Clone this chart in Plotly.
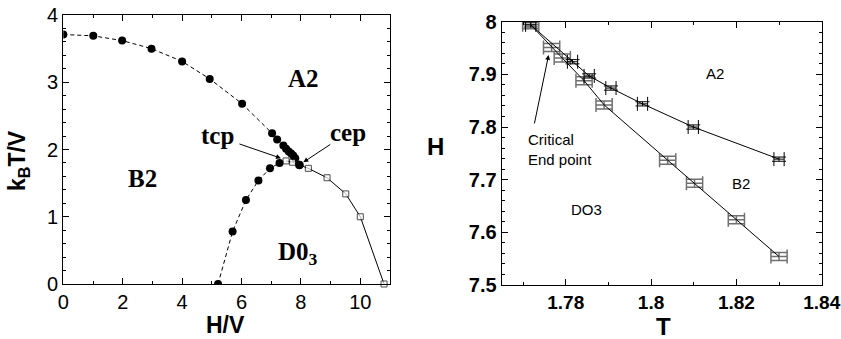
import plotly.graph_objects as go

# ---------------- Left panel data (H/V vs kB T/V) ----------------
upper_H = [0, 1.01, 1.98, 2.97, 4.0, 4.93, 6.02, 7.03, 7.2, 7.41, 7.5, 7.59, 7.67, 7.74, 7.81, 7.95]
upper_T = [3.71, 3.69, 3.62, 3.50, 3.31, 3.05, 2.68, 2.24, 2.15, 2.06, 2.01, 1.97, 1.94, 1.91, 1.87, 1.77]

lower_H = [5.21, 5.70, 6.15, 6.57, 6.96, 7.28, 7.5]
lower_T = [0.0, 0.78, 1.25, 1.54, 1.72, 1.80, 1.83]

solid_H = [7.5, 7.72, 7.95, 8.25, 8.88, 9.51, 10.0, 10.8]
solid_T = [1.83, 1.81, 1.77, 1.72, 1.58, 1.34, 1.0, 0.0]
solid_sym = ["square", "square", "circle", "square", "square", "square", "square", "square"]
solid_fill = ["white", "white", "black", "white", "white", "white", "white", "white"]

# ---------------- Right panel data (T vs H) ----------------
low_T = [1.7718, 1.7767, 1.7792, 1.7843, 1.7890, 1.8039, 1.8102, 1.8200, 1.8300]
low_H = [7.994, 7.951, 7.931, 7.888, 7.842, 7.737, 7.693, 7.624, 7.554]

up_T = [1.7718, 1.7816, 1.7855, 1.7906, 1.7980, 1.8099, 1.8300]
up_H = [7.994, 7.924, 7.897, 7.874, 7.844, 7.800, 7.739]

low_errT = 0.0019
low_errH = 0.0076
up_errT = 0.0012
up_errH = 0.004

left_xticks = [0, 2, 4, 6, 8, 10]
left_yticks = [0, 1, 2, 3, 4]
right_xticks = [1.78, 1.80, 1.82, 1.84]
right_xlabels = ["1.78", "1.8", "1.82", "1.84"]
right_yticks = [7.5, 7.6, 7.7, 7.8, 7.9, 8.0]
right_ylabels = ["7.5", "7.6", "7.7", "7.8", "7.9", "8"]

fig = go.Figure()

# left panel
fig.add_trace(go.Scatter(x=upper_H, y=upper_T, mode="lines+markers",
                         line=dict(color="black", width=1, dash="4px,3px"),
                         marker=dict(symbol="circle", size=8, color="black"),
                         xaxis="x", yaxis="y", showlegend=False))
fig.add_trace(go.Scatter(x=lower_H, y=lower_T, mode="lines",
                         line=dict(color="black", width=1, dash="4px,3px"),
                         xaxis="x", yaxis="y", showlegend=False))
fig.add_trace(go.Scatter(x=lower_H[:-1], y=lower_T[:-1], mode="markers",
                         marker=dict(symbol="circle", size=8, color="black"),
                         xaxis="x", yaxis="y", showlegend=False))
fig.add_trace(go.Scatter(x=solid_H, y=solid_T, mode="lines+markers",
                         line=dict(color="black", width=1),
                         marker=dict(symbol=solid_sym, size=[6, 6, 8, 6, 6, 6, 6, 6],
                                     color=solid_fill, line=dict(color="black", width=1)),
                         xaxis="x", yaxis="y", showlegend=False, cliponaxis=False))

# right panel
fig.add_trace(go.Scatter(x=low_T, y=low_H, mode="lines",
                         line=dict(color="black", width=1),
                         error_x=dict(type="constant", value=low_errT, color="#707070", thickness=1.5, width=7),
                         error_y=dict(type="constant", value=low_errH, color="#707070", thickness=1.5, width=8),
                         xaxis="x2", yaxis="y2", showlegend=False))
fig.add_trace(go.Scatter(x=up_T, y=up_H, mode="lines",
                         line=dict(color="black", width=1),
                         error_x=dict(type="constant", value=up_errT, color="black", thickness=1, width=7),
                         error_y=dict(type="constant", value=up_errH, color="black", thickness=1, width=7),
                         xaxis="x2", yaxis="y2", showlegend=False))

axis_common = dict(showline=True, linecolor="black", linewidth=1.2, mirror="allticks",
                   ticks="inside", ticklen=6, tickcolor="black", showgrid=False, zeroline=False,
                   automargin=False, ticklabeloverflow="allow")

fig.update_layout(
    template="none",
    width=841, height=339,
    margin=dict(l=0, r=0, t=0, b=0, autoexpand=False),
    paper_bgcolor="white", plot_bgcolor="white",
    xaxis=dict(domain=[63.3/841, 390/841], range=[0, 11], tickvals=left_xticks,
               minor=dict(dtick=1, tick0=0, ticks="inside", ticklen=3, tickcolor="black"),
               tickfont=dict(family="Liberation Sans", size=20, color="black"),
               anchor="y", **axis_common),
    yaxis=dict(domain=[(339-284)/339, (339-15)/339], range=[0, 4], tickvals=left_yticks,
               minor=dict(dtick=0.2, tick0=0, ticks="inside", ticklen=3, tickcolor="black"),
               tickfont=dict(family="Liberation Sans", size=20, color="black"),
               anchor="x", **axis_common),
    xaxis2=dict(domain=[501.7/841, 821.7/841], range=[1.765, 1.84],
                tickvals=right_xticks, ticktext=right_xlabels,
                minor=dict(dtick=0.01, tick0=1.77, ticks="inside", ticklen=3, tickcolor="black"),
                tickfont=dict(family="Liberation Sans", size=19, color="black", weight="bold"),
                anchor="y2", **axis_common),
    yaxis2=dict(domain=[(339-285)/339, (339-21.7)/339], range=[7.5, 8.0],
                tickvals=right_yticks, ticktext=right_ylabels,
                minor=dict(dtick=0.02, tick0=7.5, ticks="inside", ticklen=3, tickcolor="black"),
                tickfont=dict(family="Liberation Sans", size=20, color="black", weight="bold"),
                anchor="x2", **axis_common),
)

serif = dict(family="Liberation Serif", size=25, color="black", weight="bold")
sans = dict(family="Liberation Sans", size=15, color="black")
ann = []
# left panel labels
ann.append(dict(x=8.1, y=3.05, xref="x", yref="y", text="A2", showarrow=False, font=serif))
ann.append(dict(x=2.65, y=1.57, xref="x", yref="y", text="B2", showarrow=False, font=serif))
ann.append(dict(x=7.9, y=0.45, xref="x", yref="y", text="D0<sub>3</sub>", showarrow=False, font=serif))
ann.append(dict(x=5.2, y=2.21, xref="x", yref="y", text="tcp", showarrow=False, font=serif))
ann.append(dict(x=9.6, y=2.25, xref="x", yref="y", text="cep", showarrow=False, font=serif))
ann.append(dict(x=7.33, y=1.87, ax=5.88, ay=2.09, xref="x", yref="y", axref="x", ayref="y",
                text="", showarrow=True, arrowhead=2, arrowsize=1, arrowwidth=1, arrowcolor="black"))
ann.append(dict(x=8.08, y=1.81, ax=9.04, ay=2.09, xref="x", yref="y", axref="x", ayref="y",
                text="", showarrow=True, arrowhead=2, arrowsize=1, arrowwidth=1, arrowcolor="black"))
# left axis titles
ann.append(dict(x=226/841, y=1-325/339, xref="paper", yref="paper", text="H/V", showarrow=False,
                xanchor="center", yanchor="middle",
                font=dict(family="Liberation Sans", size=23, color="black", weight="bold")))
ann.append(dict(x=19/841, y=1-161/339, xref="paper", yref="paper", text="k<sub>B</sub>T/V", showarrow=False,
                xanchor="center", yanchor="middle",
                textangle=-90, font=dict(family="Liberation Sans", size=23, color="black", weight="bold")))
# right panel labels
ann.append(dict(x=1.8151, y=7.901, xref="x2", yref="y2", text="A2", showarrow=False, font=sans))
ann.append(dict(x=1.8211, y=7.693, xref="x2", yref="y2", text="B2", showarrow=False, font=sans))
ann.append(dict(x=1.7849, y=7.644, xref="x2", yref="y2", text="DO3", showarrow=False, font=sans))
ann.append(dict(x=1.7707, y=7.757, xref="x2", yref="y2", text="Critical<br>End point", showarrow=False,
                xanchor="left", align="left", font=sans))
ann.append(dict(x=1.776, y=7.937, ax=1.7726, ay=7.804, xref="x2", yref="y2", axref="x2", ayref="y2",
                text="", showarrow=True, arrowhead=2, arrowsize=1, arrowwidth=1, arrowcolor="black"))
# right axis titles
ann.append(dict(x=663/841, y=1-326/339, xref="paper", yref="paper", text="T", showarrow=False,
                xanchor="center", yanchor="middle",
                font=dict(family="Liberation Sans", size=24, color="black", weight="bold")))
ann.append(dict(x=436/841, y=1-146/339, xref="paper", yref="paper", text="H", showarrow=False,
                xanchor="center", yanchor="middle",
                font=dict(family="Liberation Sans", size=24, color="black", weight="bold")))
fig.update_layout(annotations=ann)

fig.write_html("out.html")
